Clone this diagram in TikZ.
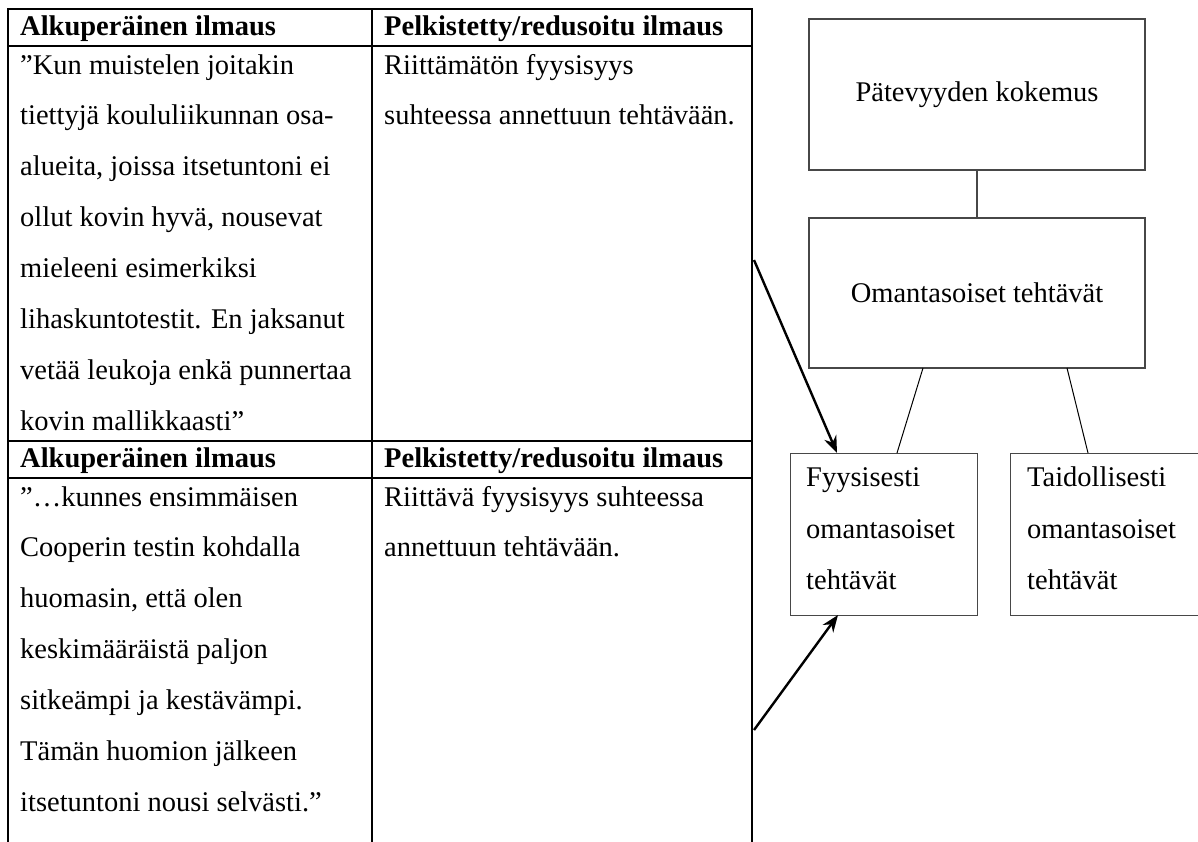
\documentclass[tikz,border=0pt]{standalone}
\usepackage{fontspec}
\setmainfont{Liberation Serif}
\usetikzlibrary{arrows.meta}
\begin{document}
\begin{tikzpicture}[x=1pt,y=-1pt,
  txt/.style={anchor=base west,inner sep=0pt,font=\fontsize{28.5}{34}\selectfont},
  hdr/.style={anchor=base west,inner sep=0pt,font=\fontsize{28.5}{34}\selectfont\bfseries},
  grid/.style={line width=2.6pt,black,line cap=rect},
  box/.style={draw=black!72,line width=1.4pt,inner sep=0pt,font=\fontsize{28.5}{34}\selectfont},
  conn/.style={line width=1pt,black},
  vconn/.style={line width=1.4pt,black!72},
  arr/.style={line width=2.4pt,black,-{Stealth[length=17pt,width=13pt]}}]
\useasboundingbox (0,0) rectangle (1198,841);
% table grid
\draw[grid,line join=miter] (8,841) -- (8,9) -- (752,9) -- (752,841);
\draw[grid] (372,9) -- (372,841);
\draw[grid] (8,46) -- (752,46);
\draw[grid] (8,441) -- (752,441);
\draw[grid] (8,478) -- (752,478);
% header 1
\node[hdr] (h1a) at (20,35) {Alkuperäinen ilmaus};
\node[hdr] (h1b) at (384,35) {Pelkistetty/redusoitu ilmaus};
% row 1
\node[txt] (r1l1) at (20,74) {”Kun muistelen joitakin};
\node[txt] (r1l2) at (20,124.9) {tiettyjä koululiikunnan osa-};
\node[txt] (r1l3) at (20,175.8) {alueita, joissa itsetuntoni ei};
\node[txt] (r1l4) at (20,226.7) {ollut kovin hyvä, nousevat};
\node[txt] (r1l5) at (20,277.6) {mieleeni esimerkiksi};
\node[txt] (r1l6) at (20,328.5) {lihaskuntotestit. En jaksanut};
\node[txt] (r1l7) at (20,379.4) {vetää leukoja enkä punnertaa};
\node[txt] (r1l8) at (20,430.3) {kovin mallikkaasti”};
\node[txt] (r1r1) at (384,74) {Riittämätön fyysisyys};
\node[txt] (r1r2) at (384,124.9) {suhteessa annettuun tehtävään.};
% header 2
\node[hdr] (h2a) at (20,467) {Alkuperäinen ilmaus};
\node[hdr] (h2b) at (384,467) {Pelkistetty/redusoitu ilmaus};
% row 2
\node[txt] (r2l1) at (20,506) {”…kunnes ensimmäisen};
\node[txt] (r2l2) at (20,556.9) {Cooperin testin kohdalla};
\node[txt] (r2l3) at (20,607.8) {huomasin, että olen};
\node[txt] (r2l4) at (20,658.7) {keskimääräistä paljon};
\node[txt] (r2l5) at (20,709.6) {sitkeämpi ja kestävämpi.};
\node[txt] (r2l6) at (20,760.5) {Tämän huomion jälkeen};
\node[txt] (r2l7) at (20,811.4) {itsetuntoni nousi selvästi.”};
\node[txt] (r2r1) at (384,506) {Riittävä fyysisyys suhteessa};
\node[txt] (r2r2) at (384,556.9) {annettuun tehtävään.};
% boxes
\node[box,minimum width=336pt,minimum height=151pt] (pat) at (977,94.5) {Pätevyyden kokemus};
\node[box,minimum width=336pt,minimum height=150pt] (oma) at (977,293) {Omantasoiset tehtävät};
\node[box,minimum width=187pt,minimum height=162pt,anchor=north west] (fyy) at (790,453) {};
\node[box,minimum width=190pt,minimum height=162pt,anchor=north west] (tai) at (1010,453) {};
\node[txt] (f1) at (806,486) {Fyysisesti};
\node[txt] (f2) at (806,538) {omantasoiset};
\node[txt] (f3) at (806,589) {tehtävät};
\node[txt] (t1) at (1027,486) {Taidollisesti};
\node[txt] (t2) at (1027,538) {omantasoiset};
\node[txt] (t3) at (1027,589) {tehtävät};
% connectors
\draw[vconn] (pat.south) -- (oma.north);
\coordinate (oL) at (923,368);
\coordinate (fT) at (897,453);
\coordinate (oR) at (1067,368);
\coordinate (tT) at (1088,453);
\draw[conn] (oL) -- (fT);
\draw[conn] (oR) -- (tT);
% arrows
\coordinate (s1) at (754,260);
\coordinate (e1) at (837,453);
\coordinate (s2) at (754,730);
\coordinate (e2) at (838,615);
\draw[arr] (s1) -- (e1);
\draw[arr] (s2) -- (e2);
\end{tikzpicture}
\end{document}
